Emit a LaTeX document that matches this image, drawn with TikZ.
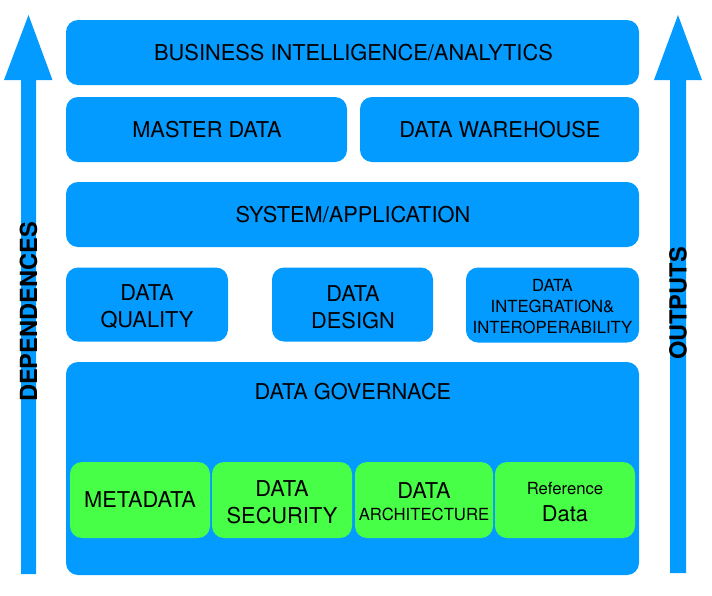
\documentclass[tikz,border=0pt]{standalone}
\usepackage{fontspec}
\setmainfont{TeX Gyre Heros}
\definecolor{boxblue}{RGB}{3,155,255}
\definecolor{boxgreen}{RGB}{72,255,72}
\begin{document}
\begin{tikzpicture}[x=1pt,y=-1pt,
  blk/.style={fill=boxblue, draw=none, rounded corners=12pt, inner sep=0pt},
  grn/.style={fill=boxgreen, draw=none, rounded corners=12pt, inner sep=0pt},
  big/.style={font=\fontsize{21.8}{27}\selectfont, align=center, text=black},
  small/.style={font=\fontsize{16.7}{21}\selectfont, align=center, text=black},
  side/.style={font=\fontsize{23.6}{28}\selectfont\bfseries, rotate=90, inner sep=0pt, text=black},
  arrowbody/.style={fill=boxblue, draw=none}]
\useasboundingbox (0,0) rectangle (712,595);

% side arrows
\coordinate (lb) at (28.5,574);
\coordinate (lt) at (28.5,15);
\fill[arrowbody] (21,574) -- (21,80) -- (4,80) -- (lt) -- (52.5,80) -- (36,80) -- (36,574) -- cycle;
\coordinate (rb) at (678,573);
\coordinate (rt) at (678,15);
\fill[arrowbody] (670,573) -- (670,80) -- (654,80) -- (rt) -- (702,80) -- (686,80) -- (686,573) -- cycle;
\node[side] (dep) at (28.5,312) {DEPENDENCES};
\node[side] (out) at (678,303.5) {OUTPUTS};

% boxes
\node[blk, minimum width=573pt, minimum height=65pt] (bi) at (352.5,52.5) {};
\node[big, inner sep=0pt] (bil) at (353.5,52.5) {BUSINESS INTELLIGENCE/ANALYTICS};
\node[blk, minimum width=281pt, minimum height=65pt] (md) at (206.5,129.5) {};
\node[big, inner sep=0pt] (mdl) at (207,130) {MASTER DATA};
\node[blk, minimum width=279pt, minimum height=65pt] (dw) at (499.5,129.5) {};
\node[big, inner sep=0pt] (dwl) at (500,130) {DATA WAREHOUSE};
\node[blk, minimum width=573pt, minimum height=65pt] (sys) at (352.5,214.5) {};
\node[big, inner sep=0pt] (sysl) at (353,215) {SYSTEM/APPLICATION};
\node[blk, minimum width=162pt, minimum height=74pt] (dq) at (147,304.5) {};
\node[big, inner sep=0pt] (dql) at (147,307) {DATA\\QUALITY};
\node[blk, minimum width=161pt, minimum height=74pt] (dd) at (352.5,304.5) {};
\node[big, inner sep=0pt] (ddl) at (353,307) {DATA\\DESIGN};
\node[blk, minimum width=173pt, minimum height=75pt] (di) at (552.5,305) {};
\node[small, inner sep=0pt] (dil) at (552.5,306.5) {DATA\\INTEGRATION\&\\INTEROPERABILITY};

\node[blk, minimum width=573pt, minimum height=213pt] (gov) at (352.5,468.5) {};
\node[big, inner sep=0pt] (govl) at (353,392) {DATA GOVERNACE};

\node[grn, minimum width=140pt, minimum height=76pt] (meta) at (140,500) {};
\node[big, inner sep=0pt] (metal) at (140,500) {METADATA};
\node[grn, minimum width=140pt, minimum height=76pt] (sec) at (282,500) {};
\node[big, inner sep=0pt] (secl) at (282,502) {DATA\\SECURITY};
\node[grn, minimum width=138pt, minimum height=76pt] (arch) at (424,500) {};
\node[big, inner sep=0pt] (archa) at (424,490.5) {DATA};
\node[small, inner sep=0pt] (archb) at (424,514) {ARCHITECTURE};
\node[grn, minimum width=140pt, minimum height=76pt] (ref) at (565,500) {};
\node[small, inner sep=0pt] (refa) at (565,489) {Reference};
\node[big, inner sep=0pt] (refb) at (565,514) {Data};
\end{tikzpicture}
\end{document}
